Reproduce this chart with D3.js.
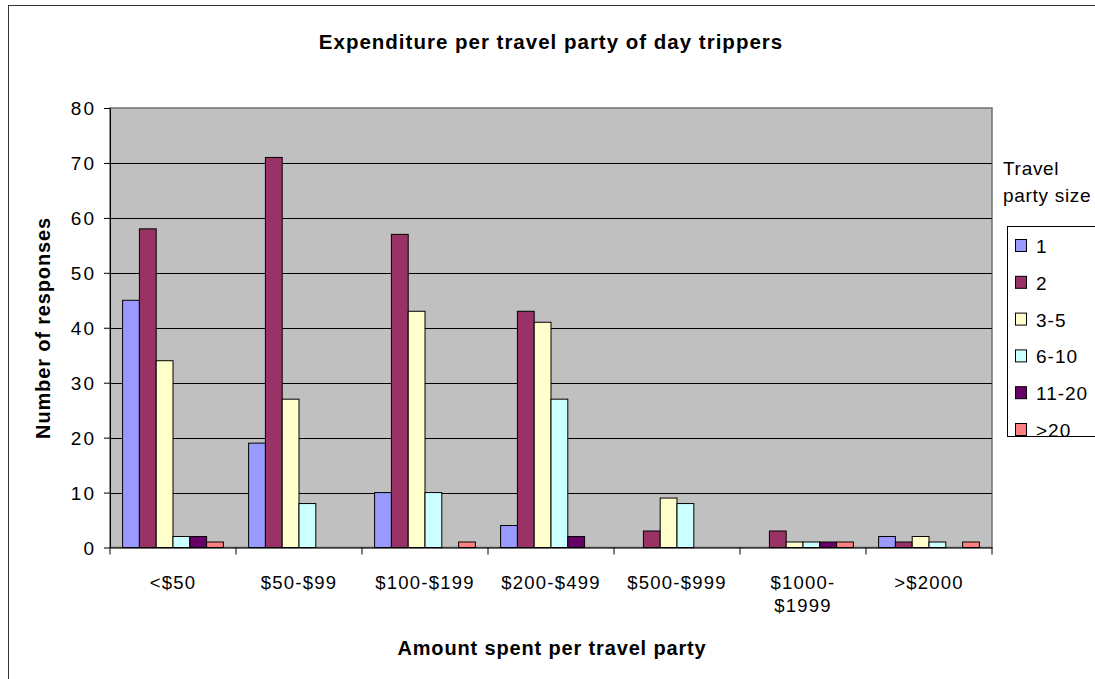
<!DOCTYPE html>
<html><head><meta charset="utf-8">
<script src="https://cdn.jsdelivr.net/npm/d3@7"></script>
<style>body{margin:0;background:#fff}svg{display:block;font-family:"Liberation Sans",Arial,sans-serif}</style>
</head><body><svg id="c" width="1095" height="679"></svg>
<script>
const categories = ["<$50","$50-$99","$100-$199","$200-$499","$500-$999","$1000-\n$1999",">$2000"];
const seriesNames = ["1","2","3-5","6-10","11-20",">20"];
const s1 = [45,19,10,4,0,0,2];
const s2 = [58,71,57,43,3,3,1];
const s3 = [34,27,43,41,9,1,2];
const s4 = [2,8,10,27,8,1,1];
const s5 = [2,0,0,2,0,1,0];
const s6 = [1,0,1,0,0,1,1];
const colors = ["#9999FF","#993366","#FFFFCC","#CCFFFF","#660066","#FF8080"];
const yTicks = [0,10,20,30,40,50,60,70,80];
const series = [s1,s2,s3,s4,s5,s6];

const svg = d3.select("#c");
const L=110,R=992,T=108,B=547.5;
svg.append("rect").attr("x",8.5).attr("y",5.5).attr("width",1095).attr("height",690).attr("fill","#fff").attr("stroke","#333").attr("stroke-width",1);

const x = d3.scaleBand().domain(categories).range([L,R]).paddingInner(0).paddingOuter(0);
const y = d3.scaleLinear().domain([0,80]).range([B,T]);
const bw = x.bandwidth()/(6+1.5);
const xs = d3.scaleBand().domain(seriesNames).range([bw*0.75, bw*0.75+bw*6]).padding(0);

svg.append("rect").attr("x",L).attr("y",T).attr("width",R-L).attr("height",B-T).attr("fill","#C0C0C0").attr("stroke","#707070").attr("stroke-width",1.5);
svg.append("g").selectAll("line").data(yTicks.slice(1,-1)).join("line")
 .attr("x1",L).attr("x2",R).attr("y1",d=>Math.round(y(d))+0.5).attr("y2",d=>Math.round(y(d))+0.5).attr("stroke","#000").attr("stroke-width",1);

const g = svg.append("g");
series.forEach((s,i)=>{
  g.selectAll(null).data(s.map((v,j)=>({v,c:categories[j]}))).join("rect")
   .attr("x",d=>x(d.c)+xs(seriesNames[i]))
   .attr("y",d=>y(d.v)).attr("width",xs.bandwidth()).attr("height",d=>B-y(d.v))
   .attr("fill",colors[i]).attr("stroke","#000").attr("stroke-width",1)
   .attr("display",d=>d.v>0?null:"none");
});

const ya = svg.append("g").attr("transform",`translate(${L},0)`)
 .call(d3.axisLeft(y).tickValues(yTicks).tickSize(6).tickSizeOuter(0).tickPadding(10));
ya.select(".domain").attr("stroke","#000");
ya.selectAll("text").attr("font-size",19).attr("letter-spacing",2.2).attr("fill","#000").attr("font-family","Liberation Sans, Arial").attr("dx",2.2).attr("dy","0.36em");

const xa = svg.append("g").attr("transform",`translate(0,${B})`)
 .call(d3.axisBottom(x).tickValues([]).tickSizeOuter(0));
xa.select(".domain").attr("stroke","#000");
const edges = categories.map(c=>x(c)).concat([R]);
xa.selectAll("line.t").data(edges).join("line").attr("class","t")
 .attr("x1",d=>d).attr("x2",d=>d).attr("y1",0).attr("y2",7).attr("stroke","#000");
categories.forEach(c=>{
  const lines=c.split("\n");
  const cx = x(c)+x.bandwidth()/2;
  const t=svg.append("text").attr("x",cx).attr("y",589).attr("text-anchor","middle").attr("font-size",18.5).attr("letter-spacing",1.2);
  lines.forEach((ln,k)=>t.append("tspan").attr("x",cx).attr("dy",k?23:0).text(ln));
});

svg.append("text").attr("x",551).attr("y",49).attr("text-anchor","middle").attr("font-size",20.5).attr("letter-spacing",1).attr("font-weight","bold").text("Expenditure per travel party of day trippers");
svg.append("text").attr("x",552).attr("y",655).attr("text-anchor","middle").attr("font-size",20).attr("letter-spacing",0.85).attr("font-weight","bold").text("Amount spent per travel party");
svg.append("text").attr("transform","translate(50,328) rotate(-90)").attr("text-anchor","middle").attr("font-size",20).attr("letter-spacing",0.85).attr("font-weight","bold").text("Number of responses");

svg.append("text").attr("x",1003).attr("y",175).attr("font-size",19).attr("letter-spacing",0.7).text("Travel");
svg.append("text").attr("x",1003).attr("y",202).attr("font-size",19).attr("letter-spacing",0.7).text("party size");
svg.append("rect").attr("x",1007.5).attr("y",226.5).attr("width",90).attr("height",210).attr("fill","#fff").attr("stroke","#000");
const lg = svg.append("g");
seriesNames.forEach((n,i)=>{
  const yy = 239 + i*36.8;
  lg.append("rect").attr("x",1015.5).attr("y",yy+0.5).attr("width",11).attr("height",12).attr("fill",colors[i]).attr("stroke","#000");
  lg.append("text").attr("x",1036).attr("y",yy+14).attr("font-size",19).attr("letter-spacing",1).text(n);
});
</script></body></html>
